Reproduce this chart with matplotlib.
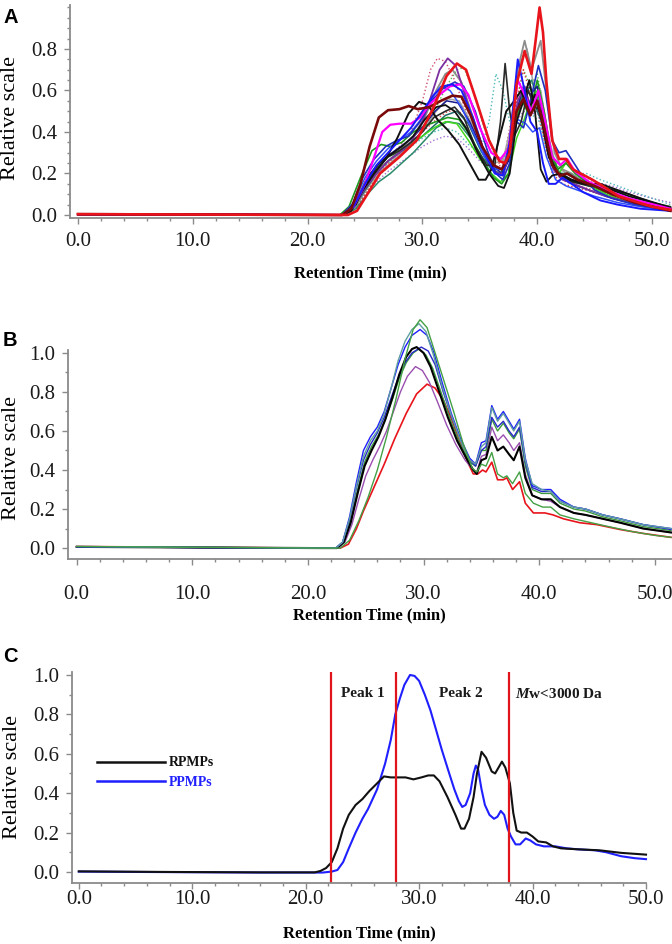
import matplotlib
matplotlib.use("Agg")
import matplotlib.pyplot as plt
from matplotlib.ticker import MultipleLocator, FormatStrFormatter
from matplotlib.lines import Line2D

# ---------------- Panel A data: (retention time, relative scale) ----------------
A_red = [(0,0.004),(23.5,0.0),(24.3,0.02),(25.2,0.1),(26.3,0.2),(28,0.28),(29.5,0.36),(30.9,0.51),(32.1,0.67),(33,0.73),(33.8,0.70),(34.7,0.55),(35.8,0.36),(36.7,0.26),(37.2,0.25),(37.6,0.3),(38.2,0.63),(38.9,0.79),(39.5,0.68),(39.9,0.86),(40.2,1.0),(40.5,0.88),(40.8,0.64),(41.3,0.36),(41.9,0.27),(42.5,0.27),(43.1,0.22),(44.8,0.17),(45.7,0.14),(47.1,0.09),(50,0.04),(51.6,0.025)]
A_maroon = [(0,0.004),(23.0,0.0),(23.8,0.03),(24.6,0.15),(25.4,0.33),(26.2,0.47),(27.0,0.505),(28.0,0.51),(28.8,0.525),(29.6,0.51),(30.6,0.52),(31.6,0.55),(32.6,0.575),(33.4,0.57),(34.2,0.48),(35.2,0.33),(36.2,0.24),(36.9,0.22),(37.5,0.28),(38.2,0.50),(38.8,0.56),(39.4,0.48),(40.0,0.55),(40.6,0.42),(41.3,0.24),(42.0,0.19),(42.6,0.2),(43.5,0.17),(45.0,0.14),(46.5,0.1),(48.5,0.06),(51.6,0.02)]
A_black1 = [(0,0.004),(23.0,0.0),(23.8,0.02),(24.8,0.12),(25.8,0.2),(26.8,0.27),(27.8,0.37),(28.8,0.49),(29.7,0.545),(30.5,0.53),(31.3,0.46),(32.2,0.41),(33.2,0.34),(34.2,0.24),(34.9,0.17),(35.5,0.17),(36.0,0.22),(36.6,0.35),(37.3,0.5),(38.0,0.55),(38.6,0.6),(39.2,0.5),(39.8,0.58),(40.4,0.45),(41.0,0.28),(41.8,0.2),(42.8,0.17),(44.0,0.15),(45.5,0.15),(47.0,0.12),(49.0,0.08),(51.6,0.035)]
A_black2 = [(0,0.003),(23.2,0.0),(24.2,0.05),(25.2,0.18),(26.2,0.25),(27.2,0.29),(28.2,0.33),(29.2,0.38),(30.2,0.46),(31.2,0.52),(32.0,0.53),(32.8,0.5),(33.8,0.42),(34.8,0.3),(35.8,0.2),(36.6,0.14),(37.1,0.13),(37.6,0.2),(38.2,0.45),(38.8,0.55),(39.3,0.65),(39.8,0.5),(40.3,0.22),(40.8,0.16),(41.3,0.19),(42.0,0.2),(43.0,0.17),(44.5,0.15),(46.0,0.13),(48.0,0.09),(50.0,0.06),(51.6,0.03)]
A_black3 = [(0,0.003),(23.0,0.0),(24.0,0.05),(25.0,0.15),(26.0,0.22),(27.0,0.28),(28.0,0.31),(29.0,0.35),(30.0,0.40),(31.0,0.47),(32.0,0.5),(32.8,0.52),(33.6,0.47),(34.6,0.33),(35.6,0.24),(36.3,0.24),(36.8,0.45),(37.2,0.73),(37.6,0.5),(38.0,0.38),(38.6,0.45),(39.2,0.6),(39.8,0.52),(40.4,0.5),(41.0,0.3),(41.8,0.2),(43.0,0.16),(44.5,0.14),(46.0,0.13),(48.0,0.1),(50.0,0.06),(51.6,0.04)]
A_blue1 = [(0,0.004),(23.0,0.0),(24.0,0.04),(25.0,0.15),(26.0,0.24),(27.0,0.3),(28.0,0.36),(29.0,0.42),(30.0,0.5),(31.0,0.58),(31.8,0.62),(32.6,0.63),(33.4,0.6),(34.4,0.47),(35.4,0.3),(36.3,0.2),(37.0,0.19),(37.6,0.35),(38.3,0.75),(38.9,0.6),(39.4,0.45),(40.0,0.4),(40.5,0.25),(41.0,0.15),(41.6,0.15),(42.2,0.18),(43.0,0.15),(44.0,0.11),(45.5,0.07),(47.0,0.05),(49.0,0.03),(51.6,0.02)]
A_blue2 = [(0,0.003),(23.0,0.0),(23.9,0.05),(24.8,0.18),(25.8,0.27),(26.8,0.33),(27.8,0.36),(28.8,0.38),(29.8,0.45),(30.8,0.55),(31.8,0.61),(32.8,0.64),(33.6,0.62),(34.6,0.5),(35.6,0.32),(36.4,0.2),(37.0,0.17),(37.6,0.25),(38.2,0.45),(38.8,0.42),(39.4,0.55),(40.1,0.72),(40.7,0.6),(41.3,0.36),(41.9,0.3),(42.5,0.31),(43.2,0.25),(44.0,0.18),(45.0,0.12),(46.5,0.08),(48.5,0.05),(51.6,0.02)]
A_blue3 = [(0,0.003),(23.0,0.0),(24.0,0.06),(25.0,0.18),(26.0,0.26),(27.0,0.32),(28.0,0.36),(29.0,0.4),(30.0,0.47),(31.0,0.58),(31.6,0.62),(32.4,0.6),(33.4,0.52),(34.4,0.4),(35.4,0.28),(36.4,0.22),(37.0,0.22),(37.6,0.33),(38.3,0.46),(39.0,0.44),(39.6,0.40),(40.2,0.42),(40.8,0.28),(41.6,0.17),(42.5,0.14),(43.5,0.12),(45.0,0.09),(47.0,0.06),(49.0,0.04),(51.6,0.02)]
A_navy = [(0,0.003),(23.1,0.0),(24.1,0.05),(25.1,0.16),(26.1,0.24),(27.1,0.29),(28.1,0.33),(29.1,0.37),(30.1,0.43),(31.1,0.5),(32.1,0.55),(33.1,0.54),(34.1,0.45),(35.1,0.33),(36.1,0.24),(36.9,0.2),(37.5,0.26),(38.2,0.5),(38.8,0.62),(39.4,0.58),(40.0,0.62),(40.6,0.45),(41.2,0.25),(42.0,0.18),(43.0,0.15),(44.5,0.12),(46.0,0.09),(48.0,0.06),(51.6,0.025)]
A_gray1 = [(0,0.003),(23.2,0.0),(24.2,0.04),(25.2,0.14),(26.2,0.22),(27.2,0.27),(28.2,0.32),(29.2,0.38),(30.2,0.47),(31.2,0.6),(32.0,0.68),(32.6,0.7),(33.4,0.64),(34.4,0.47),(35.4,0.3),(36.4,0.22),(37.0,0.22),(37.6,0.36),(38.3,0.7),(38.9,0.84),(39.5,0.7),(40.3,0.84),(40.9,0.55),(41.5,0.3),(42.2,0.22),(43.0,0.2),(44.0,0.16),(45.5,0.12),(47.0,0.09),(49.0,0.06),(51.6,0.03)]
A_gray2 = [(0,0.003),(23.2,0.0),(24.2,0.04),(25.2,0.13),(26.2,0.2),(27.2,0.25),(28.2,0.3),(29.2,0.35),(30.2,0.42),(31.2,0.5),(32.2,0.56),(33.2,0.55),(34.2,0.45),(35.2,0.33),(36.2,0.25),(37.0,0.26),(37.6,0.4),(38.4,0.72),(39.1,0.8),(39.7,0.62),(40.3,0.6),(40.9,0.4),(41.6,0.24),(42.5,0.2),(43.5,0.17),(45.0,0.13),(47.0,0.09),(49.0,0.06),(51.6,0.03)]
A_purple = [(0,0.003),(23.0,0.0),(24.0,0.04),(25.0,0.13),(26.0,0.2),(27.0,0.26),(28.0,0.3),(29.0,0.35),(30.0,0.45),(30.8,0.58),(31.5,0.7),(32.2,0.755),(32.9,0.72),(33.7,0.58),(34.7,0.4),(35.7,0.26),(36.5,0.2),(37.1,0.2),(37.7,0.35),(38.3,0.55),(38.9,0.62),(39.5,0.5),(40.1,0.55),(40.7,0.4),(41.4,0.22),(42.2,0.17),(43.2,0.15),(44.5,0.12),(46.0,0.09),(48.0,0.06),(51.6,0.025)]
A_magenta = [(0,0.004),(23.0,0.0),(24.0,0.04),(25.0,0.15),(25.8,0.28),(26.5,0.4),(27.2,0.435),(28.0,0.44),(29.0,0.44),(29.8,0.47),(30.6,0.53),(31.5,0.58),(32.4,0.62),(33.3,0.63),(34.0,0.58),(35.0,0.42),(36.0,0.3),(36.8,0.27),(37.5,0.32),(38.3,0.65),(38.9,0.58),(39.5,0.5),(40.1,0.6),(40.7,0.45),(41.3,0.28),(42.0,0.24),(42.6,0.27),(43.3,0.21),(44.5,0.16),(46.0,0.12),(48.0,0.08),(51.6,0.03)]
A_green = [(0,0.004),(22.8,0.0),(23.6,0.04),(24.6,0.18),(25.6,0.31),(26.4,0.34),(27.2,0.33),(28.2,0.35),(29.2,0.4),(30.2,0.43),(31.2,0.45),(32.2,0.47),(33.2,0.46),(34.2,0.38),(35.2,0.27),(36.2,0.18),(36.9,0.15),(37.5,0.2),(38.1,0.45),(38.7,0.55),(39.3,0.48),(40.0,0.65),(40.6,0.5),(41.2,0.3),(41.8,0.22),(42.5,0.25),(43.3,0.2),(44.5,0.15),(46.0,0.11),(48.0,0.07),(51.6,0.03)]
A_lime = [(0,0.003),(23.0,0.0),(24.0,0.05),(25.0,0.16),(26.0,0.23),(27.0,0.28),(28.0,0.31),(29.0,0.34),(30.0,0.38),(31.0,0.42),(32.0,0.45),(33.0,0.44),(34.0,0.36),(35.0,0.27),(36.0,0.2),(36.8,0.16),(37.5,0.2),(38.2,0.37),(38.8,0.45),(39.4,0.55),(40.0,0.6),(40.6,0.45),(41.2,0.28),(41.9,0.2),(42.6,0.26),(43.4,0.2),(44.6,0.14),(46.0,0.1),(48.0,0.06),(51.6,0.02)]
A_teal = [(0,0.003),(23.2,0.0),(24.2,0.03),(25.2,0.1),(26.2,0.16),(27.2,0.2),(28.2,0.25),(29.2,0.3),(30.2,0.36),(31.2,0.42),(32.2,0.45),(33.2,0.44),(34.2,0.37),(35.2,0.28),(36.2,0.21),(37.0,0.19),(37.6,0.3),(38.3,0.52),(38.9,0.6),(39.5,0.65),(40.1,0.55),(40.7,0.38),(41.3,0.24),(42.0,0.2),(42.8,0.2),(43.8,0.16),(45.0,0.13),(46.5,0.1),(48.5,0.06),(51.6,0.03)]
A_darkteal = [(0,0.003),(23.0,0.0),(24.0,0.04),(25.0,0.12),(26.0,0.2),(27.0,0.26),(28.0,0.3),(29.0,0.34),(30.0,0.38),(31.0,0.43),(32.0,0.48),(33.0,0.5),(34.0,0.44),(35.0,0.32),(36.0,0.22),(36.8,0.2),(37.5,0.28),(38.2,0.5),(38.8,0.57),(39.4,0.62),(40.0,0.5),(40.6,0.42),(41.2,0.27),(42.0,0.2),(43.0,0.17),(44.5,0.14),(46.0,0.11),(48.0,0.08),(50.0,0.05),(51.6,0.03)]
A_pink_dot = [(0,0.003),(23.0,0.0),(24.0,0.05),(25.0,0.15),(26.0,0.22),(27.0,0.28),(28.0,0.33),(29.0,0.4),(30.0,0.55),(30.7,0.7),(31.3,0.755),(32.0,0.74),(32.8,0.65),(33.8,0.5),(34.8,0.35),(35.8,0.25),(36.6,0.22),(37.2,0.3),(37.8,0.48),(38.4,0.55),(39.0,0.6),(39.6,0.5),(40.2,0.55),(40.8,0.35),(41.5,0.2),(42.5,0.16),(43.5,0.14),(45.0,0.12),(47.0,0.09),(49.0,0.06),(51.6,0.03)]
A_green_dot = [(0,0.003),(23.2,0.0),(24.2,0.03),(25.2,0.12),(26.2,0.19),(27.2,0.24),(28.2,0.29),(29.2,0.35),(30.2,0.42),(31.2,0.52),(32.2,0.63),(33.0,0.7),(33.6,0.71),(34.3,0.62),(35.2,0.45),(36.2,0.3),(37.0,0.26),(37.6,0.35),(38.2,0.55),(38.8,0.7),(39.4,0.62),(40.0,0.68),(40.6,0.5),(41.2,0.3),(42.0,0.22),(43.0,0.19),(44.5,0.16),(46.0,0.12),(48.0,0.08),(51.6,0.04)]
A_teal_dot = [(0,0.003),(23.0,0.0),(24.0,0.04),(25.0,0.13),(26.0,0.2),(27.0,0.25),(28.0,0.29),(29.0,0.33),(30.0,0.37),(31.0,0.4),(32.0,0.42),(33.0,0.4),(34.0,0.34),(35.0,0.3),(35.8,0.45),(36.4,0.68),(37.0,0.6),(37.6,0.45),(38.3,0.5),(39.0,0.55),(39.6,0.48),(40.2,0.45),(40.8,0.32),(41.6,0.22),(42.5,0.19),(43.5,0.2),(44.3,0.2),(45.5,0.17),(47.0,0.14),(49.0,0.1),(51.6,0.05)]
A_purple_dot = [(0,0.003),(23.0,0.0),(24.0,0.03),(25.0,0.1),(26.0,0.16),(27.0,0.21),(28.0,0.25),(29.0,0.29),(30.0,0.33),(31.0,0.36),(32.0,0.38),(33.0,0.37),(34.0,0.32),(35.0,0.26),(36.0,0.22),(36.8,0.22),(37.5,0.3),(38.2,0.45),(38.8,0.5),(39.4,0.48),(40.0,0.5),(40.6,0.38),(41.3,0.25),(42.2,0.2),(43.5,0.18),(45.0,0.16),(46.5,0.14),(48.0,0.11),(50.0,0.08),(51.6,0.06)]
A_red_dot = [(0,0.003),(23.2,0.0),(24.2,0.03),(25.2,0.12),(26.2,0.2),(27.2,0.26),(28.2,0.31),(29.2,0.36),(30.2,0.41),(31.2,0.46),(32.2,0.5),(33.2,0.5),(34.2,0.42),(35.2,0.32),(36.2,0.25),(37.0,0.25),(37.6,0.38),(38.2,0.55),(38.8,0.7),(39.4,0.58),(40.0,0.52),(40.6,0.36),(41.3,0.2),(42.2,0.15),(43.5,0.13),(45.0,0.11),(47.0,0.08),(49.0,0.05),(51.6,0.03)]

# ---------------- Panel B data ----------------
B_green_tall = [(0,0.008),(21.0,0.0),(22.8,0.0),(23.6,0.04),(24.4,0.14),(25.2,0.26),(26.0,0.4),(26.8,0.57),(27.6,0.76),(28.4,0.97),(29.1,1.12),(29.7,1.17),(30.3,1.13),(31.0,1.0),(31.8,0.85),(32.6,0.7),(33.4,0.54),(34.2,0.41),(34.6,0.39),(35.0,0.43),(35.4,0.42),(35.9,0.49),(36.4,0.38),(36.9,0.36),(37.2,0.37),(37.7,0.33),(38.3,0.39),(38.8,0.28),(39.5,0.23),(40.3,0.21),(41.0,0.21),(41.8,0.17),(43.0,0.15),(44.5,0.13),(46.0,0.11),(48.0,0.085),(50.0,0.065),(51.4,0.055)]
B_teal = [(0,0.008),(21.0,0.0),(22.4,0.0),(23.0,0.03),(23.6,0.15),(24.2,0.32),(24.8,0.47),(25.4,0.55),(26.0,0.6),(26.6,0.69),(27.2,0.82),(27.8,0.96),(28.4,1.06),(29.0,1.12),(29.6,1.15),(30.2,1.11),(30.8,1.0),(31.6,0.83),(32.4,0.68),(33.2,0.55),(34.0,0.45),(34.5,0.43),(35.0,0.52),(35.4,0.54),(35.9,0.72),(36.4,0.65),(36.9,0.69),(37.4,0.64),(37.8,0.6),(38.3,0.65),(38.8,0.45),(39.4,0.33),(40.2,0.3),(41.0,0.29),(41.8,0.24),(43.0,0.21),(44.0,0.2),(45.5,0.17),(47.0,0.15),(49.0,0.12),(51.4,0.1)]
B_blue1 = [(0,0.006),(21.0,0.0),(22.4,0.0),(23.0,0.03),(23.6,0.16),(24.2,0.34),(24.8,0.5),(25.4,0.57),(26.0,0.62),(26.6,0.7),(27.2,0.82),(27.8,0.94),(28.4,1.03),(29.0,1.09),(29.7,1.12),(30.3,1.09),(30.9,1.0),(31.6,0.85),(32.4,0.69),(33.2,0.56),(34.0,0.46),(34.5,0.43),(35.0,0.54),(35.4,0.55),(35.9,0.73),(36.4,0.66),(36.9,0.7),(37.4,0.65),(37.8,0.61),(38.3,0.66),(38.8,0.46),(39.4,0.32),(40.2,0.3),(41.0,0.3),(41.8,0.25),(43.0,0.21),(44.0,0.2),(45.5,0.17),(47.0,0.15),(49.0,0.12),(51.4,0.1)]
B_blue2 = [(0,0.006),(21.0,0.0),(22.4,0.0),(23.0,0.03),(23.6,0.14),(24.2,0.31),(24.8,0.45),(25.4,0.53),(26.0,0.59),(26.6,0.67),(27.2,0.77),(27.8,0.87),(28.4,0.95),(29.0,1.0),(29.8,1.03),(30.4,1.01),(31.0,0.94),(31.7,0.8),(32.5,0.66),(33.3,0.54),(34.0,0.45),(34.5,0.42),(35.0,0.5),(35.4,0.52),(35.9,0.67),(36.4,0.62),(36.9,0.65),(37.4,0.6),(37.8,0.57),(38.3,0.62),(38.8,0.44),(39.4,0.31),(40.2,0.29),(41.0,0.29),(41.8,0.24),(43.0,0.21),(44.0,0.2),(45.5,0.17),(47.0,0.15),(49.0,0.12),(51.4,0.095)]
B_green2 = [(0,0.006),(21.0,0.0),(22.5,0.0),(23.1,0.03),(23.7,0.14),(24.3,0.3),(24.9,0.44),(25.5,0.52),(26.1,0.58),(26.7,0.66),(27.3,0.76),(27.9,0.87),(28.5,0.95),(29.1,1.0),(29.6,1.02),(30.2,0.99),(30.8,0.92),(31.5,0.8),(32.3,0.66),(33.1,0.54),(34.0,0.44),(34.5,0.42),(35.0,0.5),(35.4,0.5),(35.9,0.66),(36.4,0.6),(36.9,0.64),(37.4,0.59),(37.8,0.56),(38.3,0.61),(38.8,0.42),(39.4,0.3),(40.2,0.28),(41.0,0.28),(41.8,0.23),(43.0,0.2),(44.0,0.19),(45.5,0.16),(47.0,0.14),(49.0,0.11),(51.4,0.09)]
B_black = [(0,0.006),(21.0,0.0),(22.5,0.0),(23.1,0.03),(23.7,0.13),(24.3,0.28),(24.9,0.42),(25.5,0.5),(26.1,0.57),(26.7,0.66),(27.3,0.77),(27.9,0.89),(28.5,0.98),(29.0,1.02),(29.4,1.03),(30.0,1.0),(30.6,0.93),(31.3,0.81),(32.1,0.67),(32.9,0.55),(33.7,0.46),(34.3,0.4),(34.6,0.38),(35.0,0.45),(35.4,0.46),(35.9,0.57),(36.4,0.5),(36.9,0.52),(37.4,0.48),(37.8,0.45),(38.3,0.52),(38.8,0.36),(39.4,0.27),(40.2,0.25),(41.0,0.25),(41.8,0.21),(43.0,0.18),(44.0,0.17),(45.5,0.15),(47.0,0.13),(49.0,0.1),(51.4,0.08)]
B_purple = [(0,0.006),(21.0,0.0),(22.6,0.0),(23.2,0.03),(23.8,0.12),(24.4,0.25),(25.0,0.37),(25.6,0.45),(26.2,0.52),(26.8,0.6),(27.4,0.7),(28.0,0.8),(28.6,0.88),(29.3,0.93),(29.9,0.91),(30.5,0.85),(31.2,0.75),(32.0,0.63),(32.8,0.53),(33.6,0.45),(34.3,0.4),(34.6,0.39),(35.0,0.47),(35.4,0.48),(35.9,0.62),(36.4,0.55),(36.9,0.58),(37.4,0.54),(37.8,0.5),(38.3,0.54),(38.8,0.38),(39.4,0.27),(40.2,0.25),(41.0,0.24),(41.8,0.21),(43.0,0.18),(44.0,0.17),(45.5,0.15),(47.0,0.13),(49.0,0.1),(51.4,0.08)]
B_red = [(0,0.008),(21.0,0.0),(22.8,0.0),(23.5,0.02),(24.2,0.1),(24.8,0.19),(25.7,0.31),(26.6,0.43),(27.5,0.56),(28.5,0.69),(29.4,0.79),(30.3,0.84),(31.0,0.82),(31.7,0.76),(32.5,0.65),(33.3,0.52),(33.9,0.43),(34.3,0.38),(34.7,0.38),(35.1,0.4),(35.4,0.39),(35.9,0.44),(36.4,0.35),(36.9,0.35),(37.2,0.36),(37.7,0.3),(38.3,0.34),(38.8,0.23),(39.5,0.18),(40.5,0.18),(41.2,0.17),(42.1,0.15),(43.5,0.13),(45.0,0.12),(47.0,0.095),(49.0,0.075),(51.4,0.055)]

# ---------------- Panel C data ----------------
C_rpmps = [(0,0.003),(8,0.0),(16,-0.002),(20.8,-0.002),(21.3,0.005),(21.8,0.02),(22.3,0.05),(22.8,0.12),(23.3,0.22),(23.8,0.29),(24.4,0.34),(25.0,0.37),(25.6,0.41),(26.3,0.45),(26.9,0.485),(27.5,0.48),(28.2,0.48),(28.8,0.48),(29.5,0.47),(30.2,0.48),(30.8,0.49),(31.3,0.49),(31.8,0.46),(32.5,0.38),(33.2,0.29),(33.7,0.22),(34.0,0.22),(34.4,0.27),(34.8,0.38),(35.1,0.5),(35.5,0.61),(35.9,0.58),(36.4,0.51),(36.7,0.5),(37.0,0.53),(37.3,0.56),(37.6,0.53),(38.0,0.45),(38.3,0.3),(38.6,0.21),(39.0,0.2),(39.5,0.2),(40.0,0.18),(40.5,0.155),(41.2,0.15),(41.8,0.13),(42.5,0.12),(44.0,0.115),(45.9,0.11),(47.8,0.097),(50.0,0.088)]
C_ppmps = [(0,0.002),(5.5,0.0),(16,-0.003),(21.5,-0.003),(22.3,0.002),(22.8,0.01),(23.3,0.05),(23.8,0.12),(24.4,0.2),(25.0,0.27),(25.5,0.32),(26.3,0.42),(27.0,0.55),(27.5,0.67),(27.9,0.8),(28.3,0.88),(28.7,0.95),(29.2,1.0),(29.6,0.995),(30.0,0.97),(30.5,0.9),(31.0,0.82),(31.5,0.72),(32.0,0.62),(32.6,0.51),(33.1,0.42),(33.5,0.36),(33.8,0.33),(34.1,0.34),(34.5,0.4),(34.8,0.5),(35.0,0.54),(35.2,0.52),(35.5,0.42),(35.8,0.34),(36.2,0.29),(36.6,0.27),(36.9,0.28),(37.2,0.31),(37.5,0.29),(37.8,0.22),(38.1,0.18),(38.5,0.14),(38.9,0.14),(39.4,0.17),(39.8,0.16),(40.3,0.14),(41.0,0.13),(42.0,0.13),(43.0,0.12),(44.0,0.115),(45.5,0.11),(46.5,0.1),(47.8,0.08),(49.0,0.07),(50.0,0.065)]
C_cut_lines = [22.2, 28.0, 37.9]
C_region_labels = ["Peak 1", "Peak 2", "$M$w<3000 Da"]
C_region_x = [25.0, 33.7, 42.3]
C_legend_labels = ["RPMPs", "PPMPs"]

# ---------------- styling ----------------
plt.rcParams['font.family'] = ['Liberation Serif', 'DejaVu Serif']
plt.rcParams['mathtext.fontset'] = 'custom'
plt.rcParams['mathtext.it'] = 'Liberation Serif:italic:bold'
plt.rcParams['mathtext.rm'] = 'Liberation Serif:bold'

SPINE = '#8a8a8a'
W, H = 672, 944
fig = plt.figure(figsize=(W/100, H/100), dpi=100)

def px_axes(l, r, t, b):
    return fig.add_axes([l/W, 1 - b/H, (r-l)/W, (b-t)/H])

def style(ax, xlim, ylim, ymaj, ymin_, xpad, xlab_y, ylab_x, ylab_y):
    ax.set_xlim(*xlim)
    ax.set_ylim(*ylim)
    for s in ['top', 'right']:
        ax.spines[s].set_visible(False)
    for s in ['left', 'bottom']:
        ax.spines[s].set_color(SPINE)
        ax.spines[s].set_linewidth(1.3)
    ax.xaxis.set_major_locator(MultipleLocator(10))
    ax.xaxis.set_minor_locator(MultipleLocator(2))
    ax.yaxis.set_major_locator(MultipleLocator(ymaj))
    ax.yaxis.set_minor_locator(MultipleLocator(ymin_))
    ax.xaxis.set_major_formatter(FormatStrFormatter('%.1f'))
    ax.yaxis.set_major_formatter(FormatStrFormatter('%.1f'))
    ax.tick_params(which='both', direction='out', color=SPINE, width=1.0,
                   labelsize=15, labelcolor='#1a1a1a')
    ax.tick_params(which='major', length=4)
    ax.tick_params(which='minor', length=2)
    ax.tick_params(axis='x', which='major', pad=xpad)
    ax.tick_params(axis='y', which='major', pad=5)
    ax.set_xlabel('Retention Time (min)', fontsize=12, fontweight='bold', va='center')
    ax.xaxis.set_label_coords(0.5, xlab_y)
    ax.set_ylabel('Relative scale', fontsize=16, va='center', ha='center')
    ax.yaxis.set_label_coords(ylab_x, ylab_y)

def draw(ax, pts, color, lw, ls='-'):
    xs = [p[0] for p in pts]
    ys = [p[1] for p in pts]
    ax.plot(xs, ys, color=color, lw=lw, ls=ls, clip_on=False, solid_joinstyle='round')

# ---------------- Panel A ----------------
axA = px_axes(70, 671, 5, 218)
A_series = [
    (A_purple_dot, '#a070d0', 1.0, ':'), (A_teal_dot, '#50b8b8', 1.0, ':'),
    (A_green_dot, '#50c050', 1.0, ':'), (A_pink_dot, '#d05070', 1.0, ':'),
    (A_red_dot, '#e04040', 1.0, ':'),
    (A_gray2, '#a6a6a6', 1.1, '-'), (A_gray1, '#8c8c8c', 1.3, '-'),
    (A_teal, '#2a8a6a', 1.1, '-'), (A_darkteal, '#206868', 1.1, '-'),
    (A_lime, '#40d820', 1.1, '-'), (A_green, '#1e9a1e', 1.2, '-'),
    (A_navy, '#1a1a90', 1.1, '-'),
    (A_purple, '#7b2fa0', 1.3, '-'), (A_blue3, '#3050ff', 1.1, '-'),
    (A_blue2, '#2030c0', 1.2, '-'), (A_black3, '#2a2a2a', 1.2, '-'),
    (A_black2, '#111111', 1.3, '-'), (A_black1, '#111111', 1.4, '-'),
    (A_magenta, '#ff00ff', 1.6, '-'), (A_blue1, '#1a1aff', 1.4, '-'),
    (A_maroon, '#7a0a0a', 1.9, '-'), (A_red, '#e8141b', 1.9, '-'),
]
for pts, c, lw, ls in A_series:
    draw(axA, pts, c, lw, ls)
style(axA, (-0.7, 51.65), (-0.0145, 1.012), 0.2, 0.05, 6, -0.258, -0.0998, 0.469)
axA.set_yticks([0.0, 0.2, 0.4, 0.6, 0.8])

# ---------------- Panel B ----------------
axB = px_axes(68, 671, 350, 559)
B_series = [
    (B_red, '#e8141b', 1.2), (B_purple, '#9a4fb0', 1.0), (B_green2, '#3c9c3c', 1.0),
    (B_blue2, '#2828c8', 1.0), (B_black, '#000000', 1.5), (B_blue1, '#1e1eff', 1.0),
    (B_teal, '#5f9ea0', 1.0), (B_green_tall, '#44a044', 1.0),
]
for pts, c, lw in B_series:
    draw(axB, pts, c, lw)
style(axB, (-0.75, 51.4), (-0.056, 1.015), 0.2, 0.1, 15, -0.268, -0.093, 0.483)

# ---------------- Panel C ----------------
axC = px_axes(72, 646, 672, 883)
draw(axC, C_ppmps, '#1f1fff', 1.5)
draw(axC, C_rpmps, '#111111', 1.5)
for xv in C_cut_lines:
    axC.axvline(xv, color='#e0141b', lw=1.6)
for xt, lab in zip(C_region_x, C_region_labels):
    axC.text(xt, 0.905, lab, ha='center', va='center', fontsize=11, fontweight='bold', color='#1a1a1a')
style(axC, (-0.6, 50.0), (-0.056, 1.015), 0.2, 0.1, 1, -0.237, -0.1045, 0.502)
handles = [Line2D([], [], color='#111111', lw=1.8), Line2D([], [], color='#1f1fff', lw=1.8)]
leg = axC.legend(handles, C_legend_labels, loc='upper left', bbox_to_anchor=(0.0436, 0.60),
                 frameon=False, handlelength=4.9, handletextpad=0.3, labelspacing=0.45,
                 borderpad=0, borderaxespad=0, prop={'size': 10, 'weight': 'bold'})
leg.get_texts()[0].set_color('#111111')
leg.get_texts()[1].set_color('#1f1fff')

# ---------------- panel letters ----------------
for lab, top in [('A', 8), ('B', 331), ('C', 647)]:
    fig.text(3/W, 1 - top/H, lab, ha='left', va='top', fontsize=14.5,
             fontweight='bold', family='Liberation Sans')

fig.savefig('out.png', dpi=100)
